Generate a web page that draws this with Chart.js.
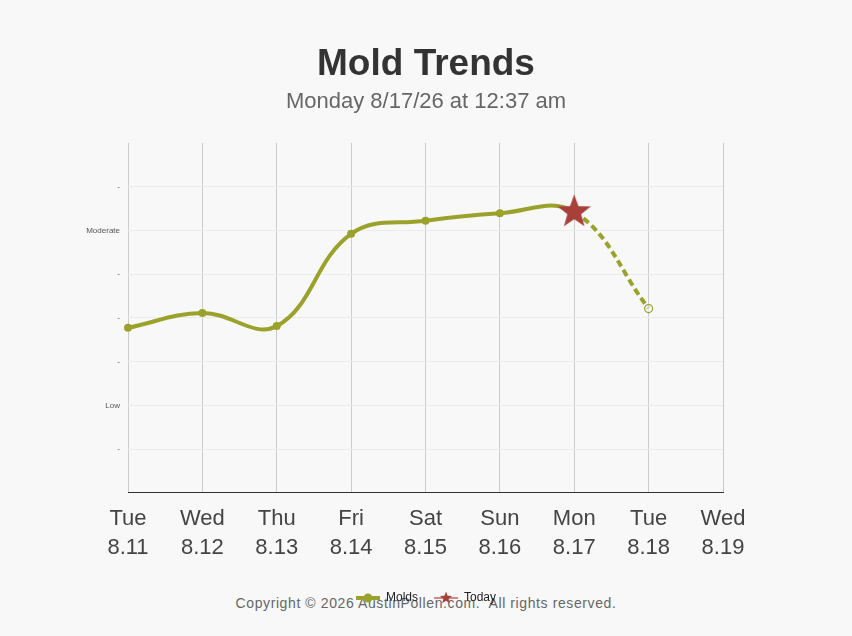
<!DOCTYPE html>
<html>
<head>
<meta charset="utf-8">
<script src="https://cdn.jsdelivr.net/npm/chart.js@4.4.1/dist/chart.umd.min.js"></script>
<style>
  html, body { margin: 0; padding: 0; background: #f8f8f8; }
  #wrap { position: relative; width: 852px; height: 636px; }
  #copy { position: absolute; left: 0; width: 852px; top: 595px; text-align: center;
          font-family: "Liberation Sans", Arial, sans-serif; font-size: 14px; color: #666;
          letter-spacing: 0.6px; z-index: 0; }
  canvas { position: absolute; left: 0; top: 0; z-index: 1; }
</style>
</head>
<body>
<div id="wrap">
  <div id="copy">Copyright © 2026 AustinPollen.com.&nbsp; All rights reserved.</div>
  <canvas id="c" width="852" height="636"></canvas>
</div>
<script>
const dayLabels = ["Tue", "Wed", "Thu", "Fri", "Sat", "Sun", "Mon", "Tue", "Wed"];
const dateLabels = ["8.11", "8.12", "8.13", "8.14", "8.15", "8.16", "8.17", "8.18", "8.19"];
const moldValues = [3.77, 4.11, 3.81, 5.92, 6.22, 6.39, 6.42, 4.21, null];
const todayValues = [null, null, null, null, null, null, 6.42, null, null];
const yTickLabels = ["", "-", "Low", "-", "-", "-", "Moderate", "-", ""];
const todayIndex = 6;

const OLIVE = "#9aa22c";
const RED = "#a8403a";

function starPath(ctx, cx, cy, R, r) {
  ctx.beginPath();
  for (let i = 0; i < 10; i++) {
    const rad = (i % 2 === 0) ? R : r;
    const a = -Math.PI / 2 + i * Math.PI / 5;
    const x = cx + rad * Math.cos(a), y = cy + rad * Math.sin(a);
    if (i === 0) ctx.moveTo(x, y); else ctx.lineTo(x, y);
  }
  ctx.closePath();
}

const starImg = document.createElement("canvas");
starImg.width = 36; starImg.height = 36;
(function () {
  const g = starImg.getContext("2d");
  g.fillStyle = RED;
  starPath(g, 18, 18, 17.5, 7.2);
  g.fill();
})();

const moldLegendImg = document.createElement("canvas");
moldLegendImg.width = 24; moldLegendImg.height = 12;
(function () {
  const g = moldLegendImg.getContext("2d");
  g.strokeStyle = OLIVE; g.lineWidth = 4;
  g.beginPath(); g.moveTo(0, 6); g.lineTo(24, 6); g.stroke();
  g.fillStyle = OLIVE; g.beginPath(); g.arc(12, 6, 4.5, 0, Math.PI * 2); g.fill();
})();

const todayLegendImg = document.createElement("canvas");
todayLegendImg.width = 24; todayLegendImg.height = 14;
(function () {
  const g = todayLegendImg.getContext("2d");
  g.strokeStyle = "rgba(200,90,80,0.7)"; g.lineWidth = 2;
  g.beginPath(); g.moveTo(0, 7); g.lineTo(24, 7); g.stroke();
  g.fillStyle = RED;
  starPath(g, 12, 7, 6.5, 2.7);
  g.fill();
})();

const chart = new Chart(document.getElementById("c"), {
  type: "line",
  data: {
    labels: dayLabels.map((d, i) => [d, dateLabels[i]]),
    datasets: [
      {
        label: "Today",
        data: todayValues,
        showLine: false,
        pointStyle: starImg,
        pointRadius: 17,
        pointHoverRadius: 17,
        order: 0
      },
      {
        label: "Molds",
        data: moldValues,
        borderColor: OLIVE,
        borderWidth: 4,
        tension: 0.4,
        pointRadius: (ctx) => ctx.dataIndex === todayIndex ? 0 : 4,
        pointBackgroundColor: (ctx) => ctx.dataIndex === todayIndex + 1 ? "rgba(248,248,248,0.6)" : OLIVE,
        pointBorderColor: OLIVE,
        pointBorderWidth: (ctx) => ctx.dataIndex === todayIndex + 1 ? 1.2 : 0,
        segment: {
          borderDash: (ctx) => ctx.p0DataIndex >= todayIndex ? [7, 4] : undefined
        },
        order: 1
      }
    ]
  },
  options: {
    responsive: false,
    animation: false,
    layout: { padding: { left: 0, right: 0, top: 0, bottom: 22 } },
    plugins: {
      title: {
        display: true,
        text: "Mold Trends",
        color: "#333",
        font: { family: "'Liberation Sans', Arial, sans-serif", size: 37, weight: "bold", lineHeight: 1.2 },
        padding: { top: 43, bottom: 1 }
      },
      subtitle: {
        display: true,
        text: "Monday 8/17/26 at 12:37 am",
        color: "#666",
        font: { family: "'Liberation Sans', Arial, sans-serif", size: 22, lineHeight: 1.2 },
        padding: { top: 0, bottom: 28 }
      },
      legend: {
        display: true,
        position: "bottom",
        labels: {
          usePointStyle: true,
          pointStyleWidth: 24,
          color: "#222",
          font: { family: "'Liberation Sans', Arial, sans-serif", size: 12 },
          padding: 16,
          generateLabels: (c) => [
            { text: "Molds", pointStyle: moldLegendImg, fillStyle: OLIVE, strokeStyle: OLIVE, lineWidth: 0, datasetIndex: 1, fontColor: "#222" },
            { text: "Today", pointStyle: todayLegendImg, fillStyle: RED, strokeStyle: RED, lineWidth: 0, datasetIndex: 0, fontColor: "#222" }
          ]
        }
      },
      tooltip: { enabled: false }
    },
    scales: {
      x: {
        offset: false,
        afterFit: (s) => { s.height = 83.2; },
        grid: { color: "#cccccc", drawTicks: false, lineWidth: 1 },
        border: { display: true, color: "#333", width: 1 },
        ticks: {
          color: "#444",
          font: { family: "'Liberation Sans', Arial, sans-serif", size: 22, lineHeight: 1.3 },
          padding: 12,
          maxRotation: 0,
          autoSkip: false
        }
      },
      y: {
        min: 0,
        max: 8,
        afterFit: (s) => { s.width = 128; },
        grid: {
          drawTicks: false,
          color: (ctx) => (ctx.tick && (ctx.tick.value === 8 || ctx.tick.value === 0)) ? "rgba(0,0,0,0)" : "#ebebeb"
        },
        border: { display: false },
        ticks: {
          stepSize: 1,
          padding: 8,
          color: "#555",
          font: { family: "'Liberation Sans', Arial, sans-serif", size: 8 },
          callback: (v) => yTickLabels[v] !== undefined ? yTickLabels[v] : ""
        }
      },
      yRight: {
        position: "right",
        display: true,
        min: 0,
        max: 8,
        afterFit: (s) => { s.width = 129; },
        grid: { display: false, drawTicks: false },
        border: { display: false },
        ticks: { display: false }
      }
    }
  }
});
</script>
</body>
</html>
